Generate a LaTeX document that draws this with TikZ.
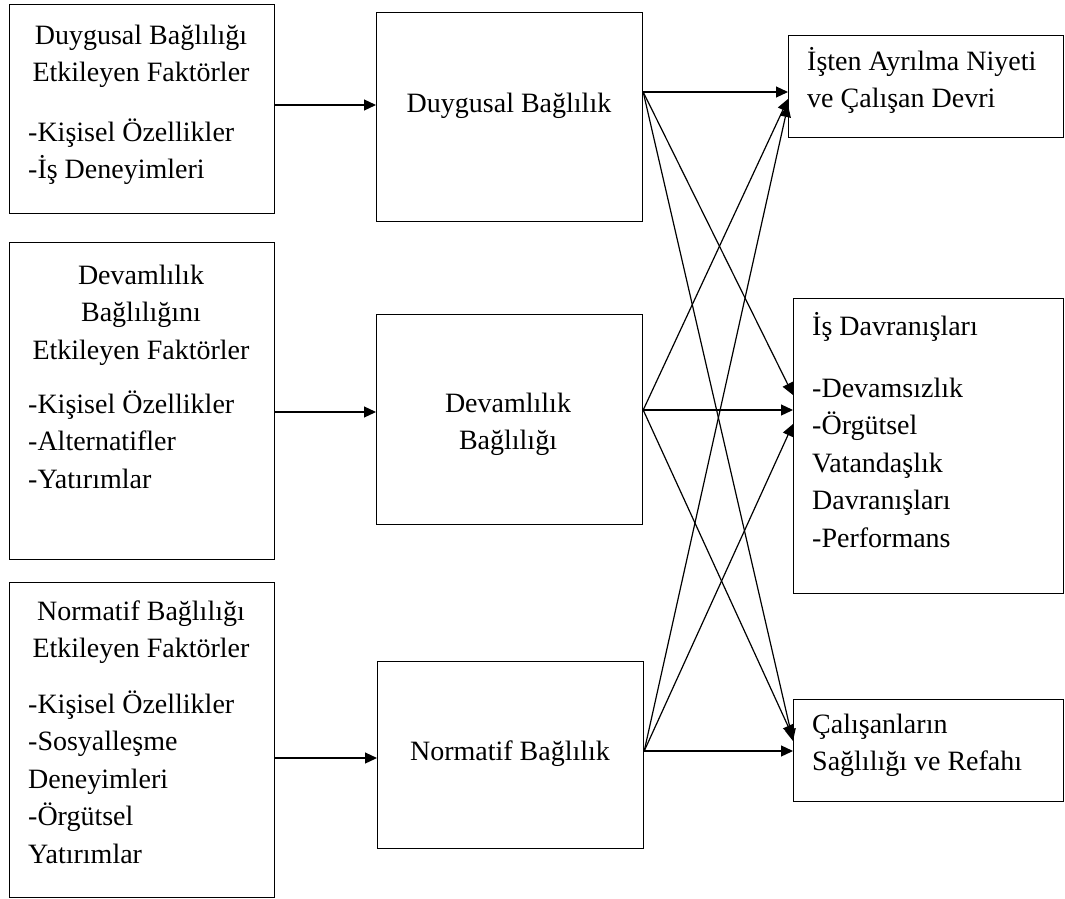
\documentclass[tikz,border=0pt]{standalone}
\usepackage{fontspec}
\setmainfont{Liberation Serif}
\usetikzlibrary{arrows.meta,positioning}

\begin{document}
\begin{tikzpicture}[x=1pt, y=-1pt,
    kutu/.style={draw, line width=1.2pt, anchor=north west, inner sep=0pt},
    yazi/.style={inner sep=0pt, font=\fontsize{28}{37.5}\selectfont},
    ok/.style={line width=1.2pt, -{Triangle[length=12pt,width=11pt]}}]
    %model baglilik
    \useasboundingbox (0,0) rectangle (1065,899);
    % kutular
    \node[kutu, minimum width=265pt, minimum height=209pt] (l1) at (9,4) {};
    \node[kutu, minimum width=265pt, minimum height=317pt] (l2) at (9,242) {};
    \node[kutu, minimum width=265pt, minimum height=315pt] (l3) at (9,582) {};
    \node[kutu, minimum width=266pt, minimum height=209pt] (duy) at (376,12) {};
    \node[kutu, minimum width=266pt, minimum height=210pt] (dev) at (376,314) {};
    \node[kutu, minimum width=266pt, minimum height=187pt] (nor) at (377,661) {};
    \node[kutu, minimum width=275pt, minimum height=102pt] (ayr) at (788,35) {};
    \node[kutu, minimum width=270pt, minimum height=295pt] (dav) at (793,298) {};
    \node[kutu, minimum width=270pt, minimum height=102pt] (sag) at (793,699) {};

    % yazilar (base = son satir)
\node[yazi, align=center, anchor=base] (l1b) at (141,81.5) {Duygusal Bağlılığı\\Etkileyen Faktörler};
\node[yazi, align=left, anchor=base west] (l1l) at (28,178.5) {-Kişisel Özellikler\\-İş Deneyimleri};
\node[yazi, align=center, anchor=base] (l2b) at (141,359) {Devamlılık\\Bağlılığını\\Etkileyen Faktörler};
\node[yazi, align=left, anchor=base west] (l2l) at (28,488) {-Kişisel Özellikler\\-Alternatifler\\-Yatırımlar};
\node[yazi, align=center, anchor=base] (l3b) at (141,657.5) {Normatif Bağlılığı\\Etkileyen Faktörler};
\node[yazi, align=left, anchor=base west] (l3l) at (28,863) {-Kişisel Özellikler\\-Sosyalleşme\\Deneyimleri\\-Örgütsel\\Yatırımlar};
\node[yazi, anchor=base] (duyy) at (509,112) {Duygusal Bağlılık};
\node[yazi, align=center, anchor=base] (devy) at (508,449.5) {Devamlılık\\Bağlılığı};
\node[yazi, anchor=base] (nory) at (510,760) {Normatif Bağlılık};
\node[yazi, align=left, anchor=base west] (ayry) at (807,107.5) {İşten Ayrılma Niyeti\\ve Çalışan Devri};
\node[yazi, align=left, anchor=base west] (davy) at (812,547) {İş Davranışları\\[24.5pt]-Devamsızlık\\-Örgütsel\\Vatandaşlık\\Davranışları\\-Performans};
\node[yazi, align=left, anchor=base west] (sagy) at (812,770.5) {Çalışanların\\Sağlılığı ve Refahı};

    % ok seviyeleri
    \coordinate (g1) at (0,105);
    \coordinate (g2) at (0,412);
    \coordinate (g3) at (0,758);
    \coordinate (o1) at (0,92);
    \coordinate (o2) at (0,410);
    \coordinate (o3) at (0,751);
    \coordinate (ayr2) at (0,99);
    \coordinate (ayr3) at (0,105);
    \coordinate (dav1) at (0,395);
    \coordinate (dav3) at (0,424);
    \coordinate (sag1) at (0,741);
    \coordinate (sag2) at (0,737);

            \draw[ok] (l1.east |- g1) -- (duy.west |- g1);
            \draw[ok] (l2.east |- g2) -- (dev.west |- g2);
            \draw[ok] (l3.east |- g3) -- (nor.west |- g3);

            \draw[ok] (duy.east |- o1) -- (ayr.west |- o1);
            \draw[ok] (duy.east |- o1) -- (dav.west |- dav1);
            \draw[ok] (duy.east |- o1) -- (sag.west |- sag1);
            \draw[ok] (dev.east |- o2) -- (ayr.west |- ayr2);
            \draw[ok] (dev.east |- o2) -- (dav.west |- o2);
            \draw[ok] (dev.east |- o2) -- (sag.west |- sag2);
            \draw[ok] (nor.east |- o3) -- (ayr.west |- ayr3);
            \draw[ok] (nor.east |- o3) -- (dav.west |- dav3);
            \draw[ok] (nor.east |- o3) -- (sag.west |- o3);
\end{tikzpicture}
\end{document}
